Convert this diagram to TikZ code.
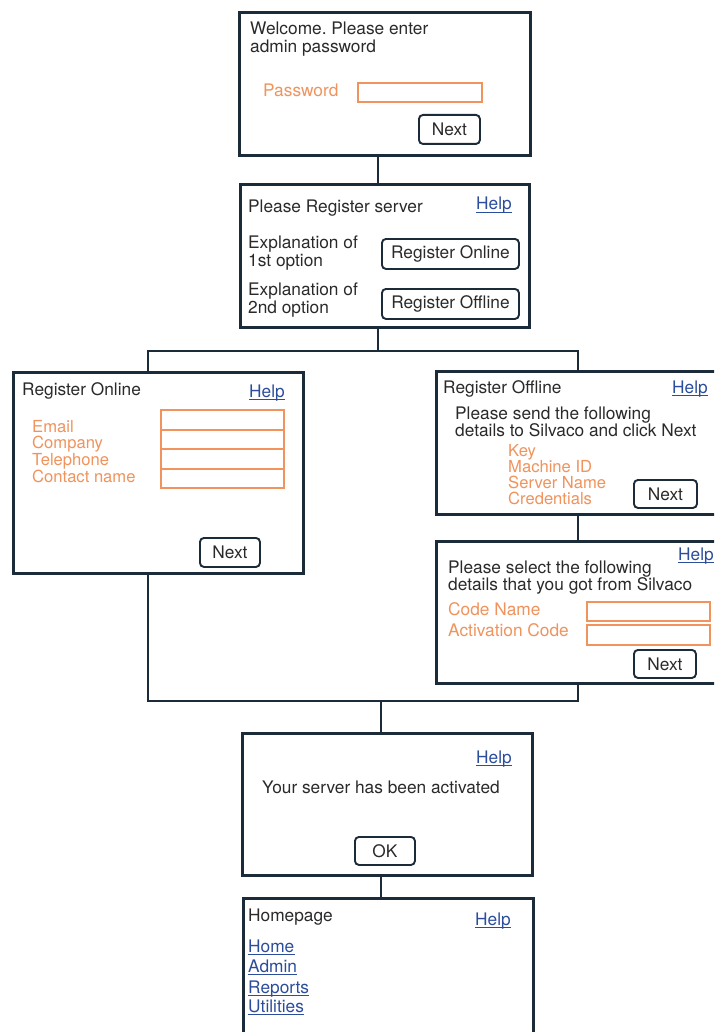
\documentclass[tikz,border=0pt]{standalone}
\usepackage{fontspec}
\setmainfont{TeX Gyre Heros}
\frenchspacing
\definecolor{frame}{HTML}{1C2B3A}
\definecolor{ink}{HTML}{2A2A2A}
\definecolor{fieldc}{HTML}{F0935C}
\definecolor{linkc}{HTML}{2C4C9C}
\tikzset{
  screen/.style={draw=frame, line width=2.7pt, fill=white, anchor=north west, inner sep=0pt},
  wire/.style={draw=frame, line width=2.4pt},
  txt/.style={anchor=base west, inner sep=0pt, text=ink, font=\fontsize{17.3}{19}\selectfont},
  small/.style={font=\fontsize{16.6}{18}\selectfont},
  lbl/.style={txt, text=fieldc},
  lnk/.style={txt, text=linkc},
  lnkline/.style={draw=linkc, line width=0.9pt},
  btn/.style={draw=frame, line width=1.9pt, rounded corners=4pt, anchor=north west, inner sep=0pt,
              text=ink, font=\fontsize{17.3}{19}\selectfont},
  entry/.style={draw=fieldc, line width=1.6pt, anchor=north west, inner sep=0pt},
}
% link text with an underline slightly below the baseline
\newcommand{\linknode}[4]{%
  \node[lnk] (#1) at (#2,#3) {#4};
  \draw[lnkline] ([yshift=-2.6pt]#1.base west) -- ([yshift=-2.6pt]#1.base east);}
\begin{document}
\begin{tikzpicture}[x=1pt,y=-1pt]
\useasboundingbox (0,0) rectangle (714,1032);
\clip (0,0) rectangle (714,1032);

% screens
\node[screen, minimum width=291pt, minimum height=143pt] (b1) at (238,11) {};
\node[screen, minimum width=289pt, minimum height=143pt] (b2) at (239,183) {};
\node[screen, minimum width=290pt, minimum height=201pt] (b3) at (12,371) {};
\node[screen, minimum width=300pt, minimum height=143pt] (b4) at (435,370) {};
\node[screen, minimum width=300pt, minimum height=142pt] (b5) at (435,540) {};
\node[screen, minimum width=290pt, minimum height=142pt] (b6) at (241,732) {};
\node[screen, minimum width=290pt, minimum height=160pt] (b7) at (242,897) {};

% connectors
\coordinate (fork) at (378,351);
\coordinate (fl) at (148,351);
\coordinate (fr) at (578,351);
\coordinate (join) at (381,701);
\coordinate (jl) at (148,701);
\coordinate (jr) at (578,701);
\draw[wire] (b1.south -| fork) -- (b2.north -| fork);
\draw[wire] (b2.south -| fork) -- (fork);
\draw[wire] (b3.north -| fl) -- (fl) -- (fr) -- (b4.north -| fr);
\draw[wire] (b4.south -| fr) -- (b5.north -| fr);
\draw[wire] (b3.south -| fl) -- (jl) -- (jr) -- (b5.south -| fr);
\draw[wire] (join) -- (b6.north -| join);
\draw[wire] (b6.south -| join) -- (b7.north -| join);

% screen 1: admin password
\node[txt] (t11) at (250,35) {Welcome. Please enter};
\node[txt] (t12) at (250,53) {admin password};
\node[lbl] (t13) at (263,97) {Password};
\node[entry, minimum width=124pt, minimum height=19pt] (f11) at (357,82) {};
\node[btn, minimum width=61pt, minimum height=29pt] (n1) at (418,114) {Next};

% screen 2: registration choice
\node[txt] (t21) at (248,213) {Please Register server};
\linknode{h2}{476}{210}{Help}
\node[txt] (t22) at (248,248) {Explanation of};
\node[txt] (t23) at (248,266) {1st option};
\node[btn, minimum width=137pt, minimum height=30pt] (ron) at (381,238) {Register Online};
\node[txt] (t24) at (248,295) {Explanation of};
\node[txt] (t25) at (248,313) {2nd option};
\node[btn, minimum width=137pt, minimum height=30pt] (roff) at (381,288) {Register Offline};

% screen 3: register online
\node[txt] (t31) at (22,395) {Register Online};
\linknode{h3}{249}{397}{Help}
\node[lbl, small] (t32) at (32,432) {Email};
\node[lbl, small] (t33) at (32,448.7) {Company};
\node[lbl, small] (t34) at (32,465.4) {Telephone};
\node[lbl, small] (t35) at (32,482) {Contact name};
\node[entry, minimum width=123pt, minimum height=20pt] (f31) at (160,409) {};
\node[entry, minimum width=123pt, minimum height=19pt] (f32) at (160,429) {};
\node[entry, minimum width=123pt, minimum height=20pt] (f33) at (160,448) {};
\node[entry, minimum width=123pt, minimum height=19pt] (f34) at (160,468) {};
\node[btn, minimum width=60pt, minimum height=29pt] (n3) at (199,537) {Next};

% screen 4: register offline
\node[txt] (t41) at (443,393) {Register Offline};
\linknode{h4}{672}{393}{Help}
\node[txt] (t42) at (455,419) {Please send the following};
\node[txt] (t43) at (455,436) {details to Silvaco and click Next};
\node[lbl, small] (t44) at (508,456) {Key};
\node[lbl, small] (t45) at (508,472.3) {Machine ID};
\node[lbl, small] (t46) at (508,488.6) {Server Name};
\node[lbl, small] (t47) at (508,504.9) {Credentials};
\node[btn, minimum width=63pt, minimum height=28pt] (n4) at (633,479) {Next};

% screen 5: activation codes
\linknode{h5}{678}{560}{Help}
\node[txt] (t51) at (448,573) {Please select the following};
\node[txt] (t52) at (448,590) {details that you got from Silvaco};
\node[lbl] (t53) at (448,615) {Code Name};
\node[lbl] (t54) at (448,636) {Activation Code};
\node[entry, minimum width=123pt, minimum height=19pt] (f51) at (586,601) {};
\node[entry, minimum width=123pt, minimum height=20pt] (f52) at (586,624) {};
\node[btn, minimum width=62pt, minimum height=28pt] (n5) at (633,649) {Next};

% screen 6: confirmation
\linknode{h6}{476}{763}{Help}
\node[txt] (t61) at (262,793) {Your server has been activated};
\node[btn, minimum width=60pt, minimum height=28pt] (ok) at (354,836) {OK};

% screen 7: homepage
\node[txt] (t71) at (248,921) {Homepage};
\linknode{h7}{475}{925}{Help}
\linknode{l1}{248}{952}{Home}
\linknode{l2}{248}{972}{Admin\ }
\linknode{l3}{248}{993}{Reports\ }
\linknode{l4}{248}{1012}{Utilities\ }
\end{tikzpicture}
\end{document}
